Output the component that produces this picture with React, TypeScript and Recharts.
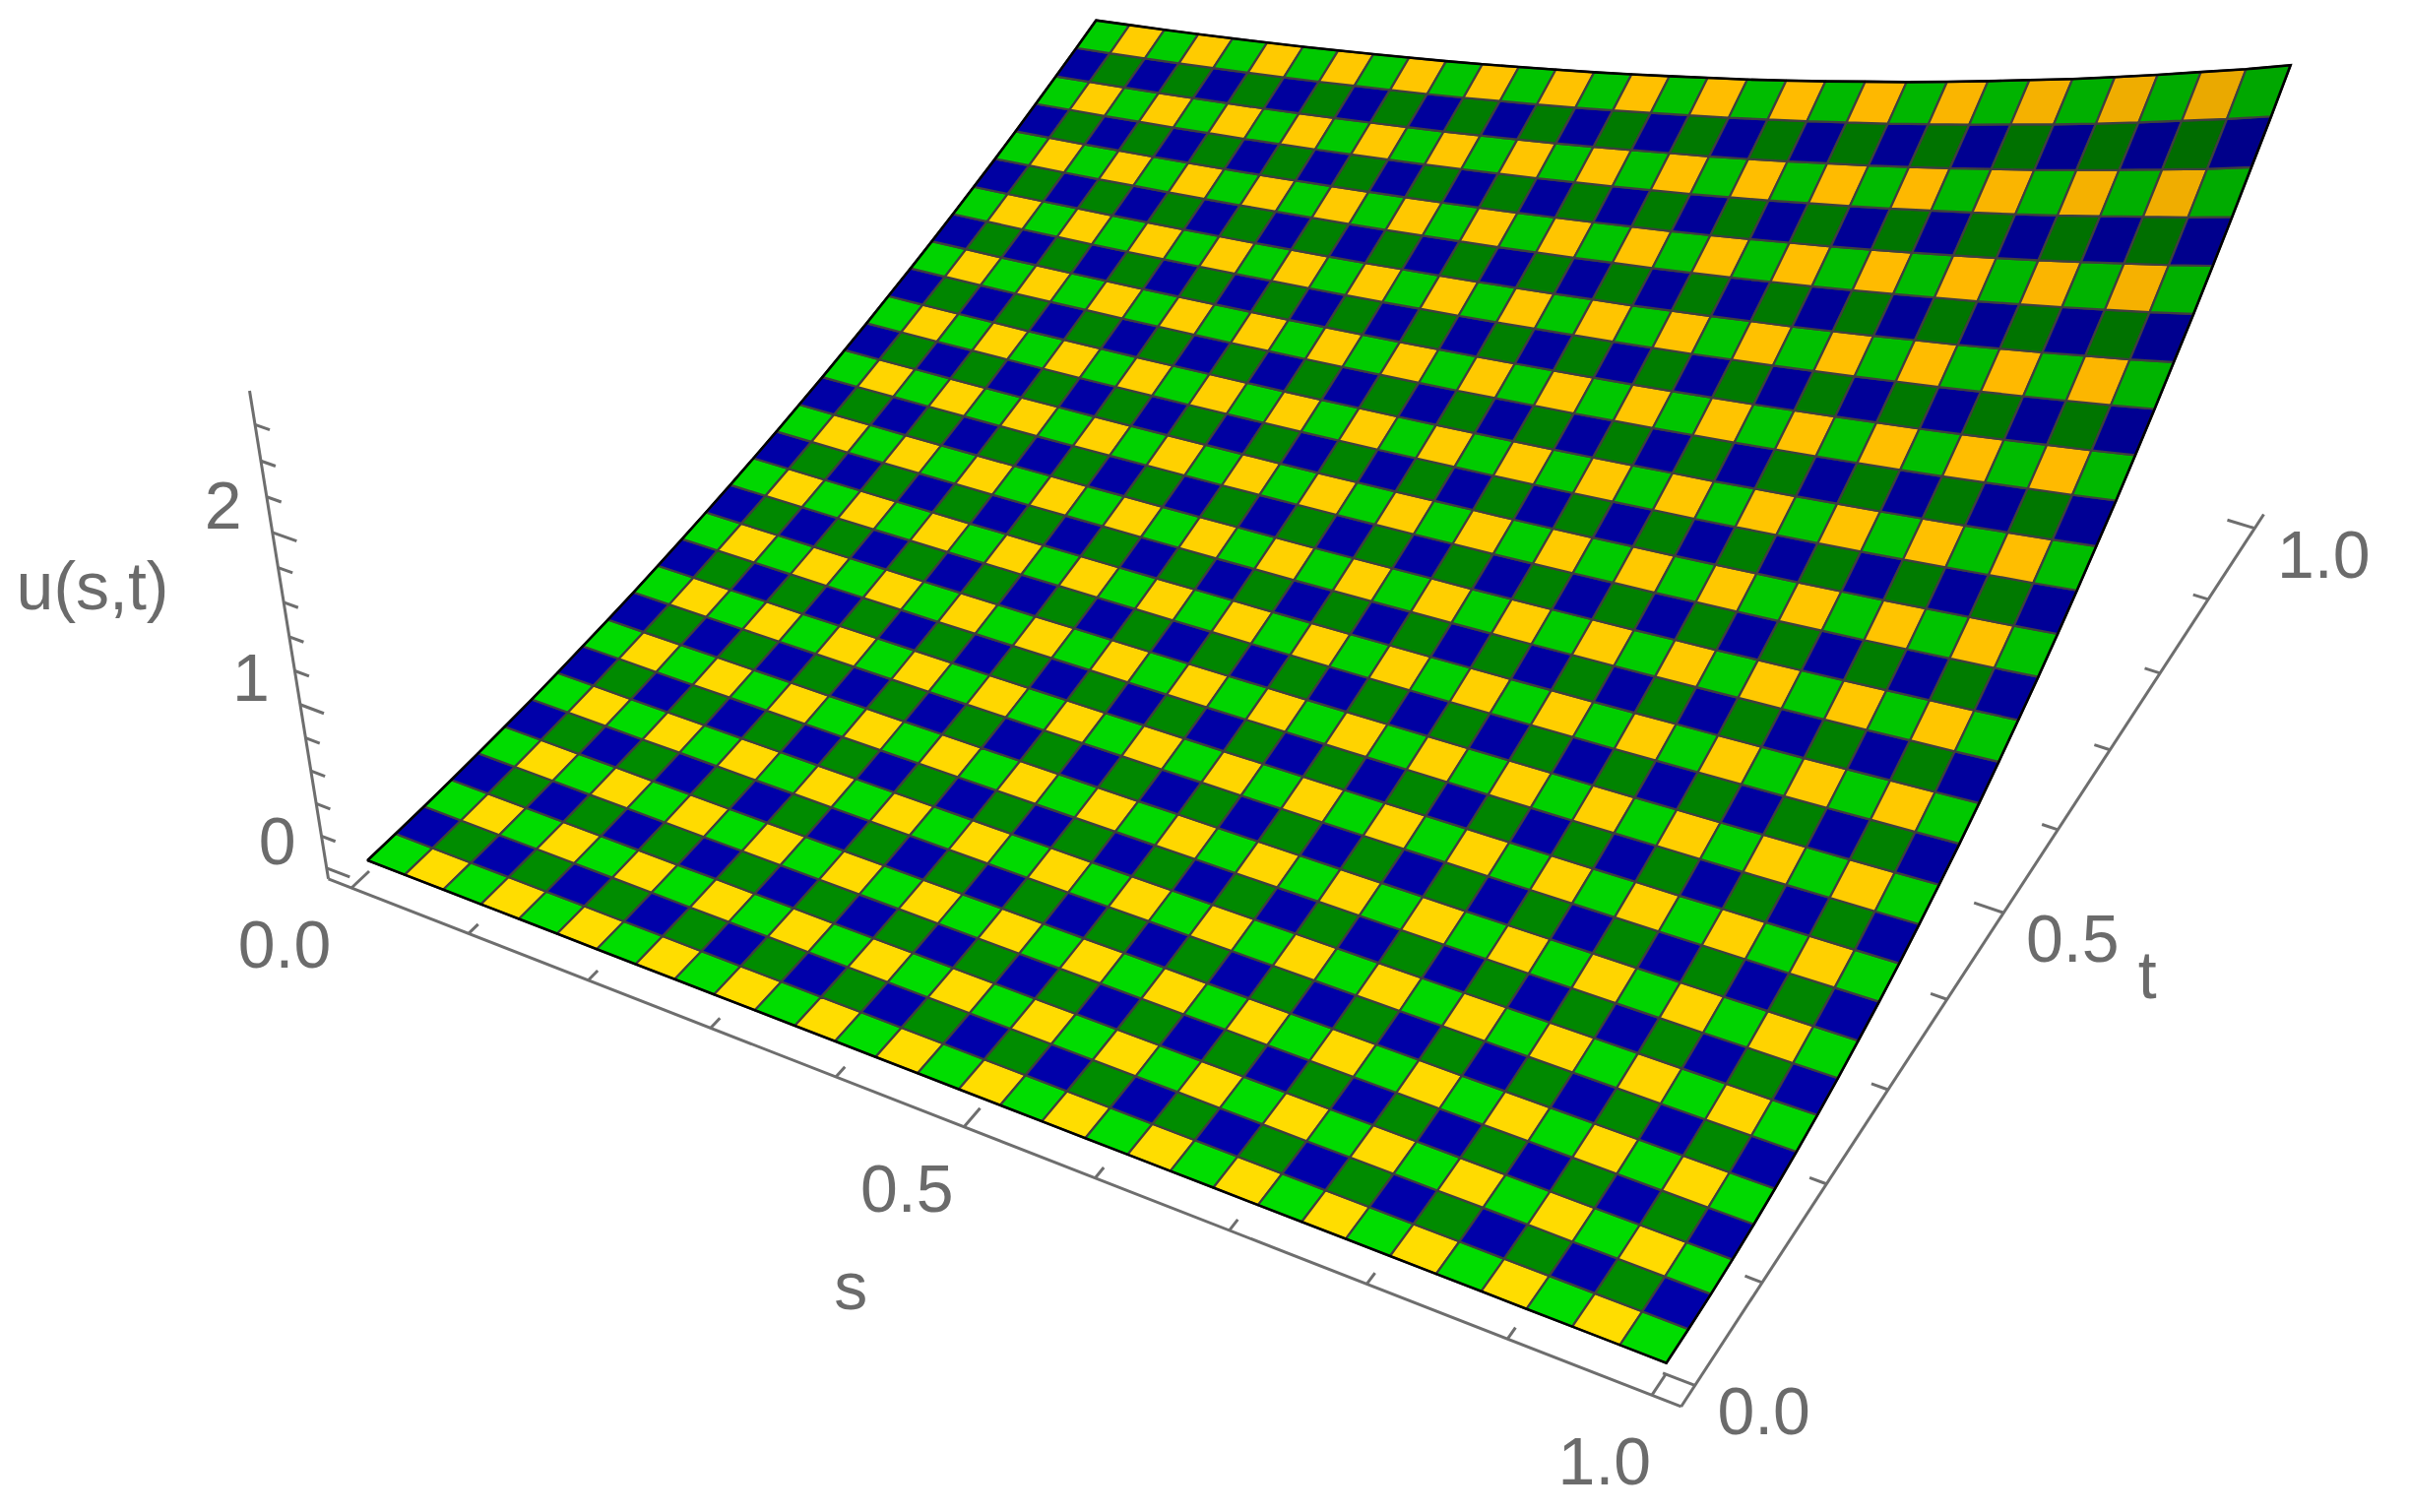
import React from 'react';
import { ScatterChart, Scatter, XAxis, YAxis } from 'recharts';

const WIDTH = 2447;
const HEIGHT = 1536;

const sValues = [0, .032, .065, .097, .129, .161, .194, .226, .258, .29, .323, .355, .387, .419, .452, .484, .516, .548, .581, .613, .645, .677, .71, .742, .774, .806, .839, .871, .903, .935, .968, 1];
const tValues = [0, .032, .065, .097, .129, .161, .194, .226, .258, .29, .323, .355, .387, .419, .452, .484, .516, .548, .581, .613, .645, .677, .71, .742, .774, .806, .839, .871, .903, .935, .968, 1];

// u(s,t), one row per t value
const uRows = [
  [0, 0, 0, 0, 0, 0, 0, 0, 0, 0, 0, 0, 0, 0, 0, 0, 0, 0, 0, 0, 0, 0, 0, 0, 0, 0, 0, 0, 0, 0, 0, 0],
  [.001, .001, .001, .001, .001, .001, .001, .001, .001, .001, .001, .001, .002, .002, .002, .002, .002, .002, .002, .002, .002, .002, .002, .002, .002, .002, .002, .002, .003, .003, .003, .003],
  [.004, .004, .004, .005, .005, .005, .005, .005, .005, .006, .006, .006, .006, .006, .007, .007, .007, .007, .007, .008, .008, .008, .008, .009, .009, .009, .01, .01, .01, .011, .011, .011],
  [.009, .01, .01, .01, .011, .011, .011, .012, .012, .013, .013, .013, .014, .014, .015, .015, .016, .016, .017, .017, .018, .018, .019, .02, .02, .021, .022, .022, .023, .024, .025, .025],
  [.017, .017, .018, .018, .019, .02, .02, .021, .022, .022, .023, .024, .025, .025, .026, .027, .028, .029, .03, .031, .032, .033, .034, .035, .036, .037, .039, .04, .041, .042, .044, .045],
  [.026, .027, .028, .029, .03, .031, .032, .033, .034, .035, .036, .037, .038, .04, .041, .042, .044, .045, .046, .048, .05, .051, .053, .055, .056, .058, .06, .062, .064, .066, .068, .071],
  [.037, .039, .04, .041, .043, .044, .045, .047, .049, .05, .052, .053, .055, .057, .059, .061, .063, .065, .067, .069, .071, .074, .076, .079, .081, .084, .087, .089, .092, .095, .099, .102],
  [.051, .053, .054, .056, .058, .06, .062, .064, .066, .068, .07, .073, .075, .078, .08, .083, .085, .088, .091, .094, .097, .1, .104, .107, .111, .114, .118, .122, .126, .13, .134, .139],
  [.067, .069, .071, .073, .076, .078, .081, .084, .086, .089, .092, .095, .098, .101, .105, .108, .112, .115, .119, .123, .127, .131, .135, .14, .144, .149, .154, .159, .164, .17, .175, .181],
  [.084, .087, .09, .093, .096, .099, .102, .106, .109, .113, .116, .12, .124, .128, .132, .137, .141, .146, .151, .156, .161, .166, .171, .177, .183, .189, .195, .201, .208, .215, .222, .229],
  [.104, .107, .111, .115, .118, .122, .126, .13, .135, .139, .144, .148, .153, .158, .163, .169, .174, .18, .186, .192, .198, .205, .212, .219, .226, .233, .241, .249, .257, .265, .274, .283],
  [.126, .13, .134, .139, .143, .148, .153, .158, .163, .168, .174, .18, .185, .192, .198, .204, .211, .218, .225, .232, .24, .248, .256, .264, .273, .282, .291, .301, .311, .321, .331, .342],
  [.15, .155, .16, .165, .171, .176, .182, .188, .194, .2, .207, .214, .221, .228, .235, .243, .251, .259, .268, .277, .286, .295, .305, .315, .325, .336, .347, .358, .37, .382, .394, .407],
  [.176, .182, .188, .194, .2, .207, .213, .221, .228, .235, .243, .251, .259, .267, .276, .285, .295, .304, .314, .325, .335, .346, .358, .369, .381, .394, .407, .42, .434, .448, .463, .478],
  [.204, .211, .218, .225, .232, .24, .248, .256, .264, .273, .282, .291, .3, .31, .32, .331, .342, .353, .364, .376, .389, .402, .415, .428, .442, .457, .472, .487, .503, .52, .537, .554],
  [.234, .242, .25, .258, .266, .275, .284, .294, .303, .313, .323, .334, .345, .356, .368, .38, .392, .405, .418, .432, .446, .461, .476, .492, .508, .524, .542, .559, .578, .597, .616, .636],
  [.266, .275, .284, .294, .303, .313, .323, .334, .345, .356, .368, .38, .392, .405, .418, .432, .446, .461, .476, .492, .508, .525, .542, .559, .578, .597, .616, .636, .657, .679, .701, .724],
  [.301, .311, .321, .331, .342, .353, .365, .377, .389, .402, .415, .429, .443, .457, .472, .488, .504, .521, .537, .555, .573, .592, .611, .632, .652, .674, .696, .718, .742, .766, .791, .817],
  [.337, .348, .36, .372, .384, .396, .409, .423, .437, .451, .466, .481, .497, .513, .53, .547, .565, .584, .602, .622, .643, .664, .685, .708, .731, .755, .78, .805, .832, .859, .887, .916],
  [.376, .388, .401, .414, .427, .441, .456, .471, .486, .502, .519, .536, .553, .571, .59, .61, .63, .65, .671, .693, .716, .74, .764, .789, .815, .841, .869, .897, .927, .957, .988, 1.021],
  [.416, .43, .444, .459, .474, .489, .505, .522, .539, .556, .575, .594, .613, .633, .654, .676, .698, .72, .744, .768, .793, .82, .846, .874, .903, .932, .963, .994, 1.027, 1.061, 1.095, 1.131],
  [.459, .474, .49, .506, .522, .539, .557, .575, .594, .614, .634, .654, .676, .698, .721, .745, .769, .794, .82, .847, .875, .904, .933, .964, .995, 1.028, 1.061, 1.096, 1.132, 1.169, 1.207, 1.247],
  [.504, .52, .537, .555, .573, .592, .611, .632, .652, .673, .696, .718, .742, .766, .791, .817, .844, .872, .9, .93, .96, .992, 1.024, 1.058, 1.092, 1.128, 1.165, 1.203, 1.242, 1.283, 1.325, 1.369],
  [.55, .569, .587, .607, .626, .647, .668, .69, .713, .736, .76, .785, .811, .837, .865, .893, .923, .953, .984, 1.016, 1.049, 1.084, 1.119, 1.156, 1.194, 1.233, 1.273, 1.315, 1.358, 1.403, 1.448, 1.496],
  [.599, .619, .64, .661, .682, .704, .728, .752, .776, .801, .828, .855, .883, .912, .942, .973, 1.005, 1.038, 1.071, 1.106, 1.142, 1.18, 1.219, 1.259, 1.3, 1.343, 1.386, 1.432, 1.479, 1.527, 1.577, 1.629],
  [.65, .672, .694, .717, .74, .764, .79, .816, .842, .87, .898, .927, .958, .989, 1.022, 1.056, 1.09, 1.126, 1.162, 1.201, 1.24, 1.281, 1.322, 1.366, 1.411, 1.457, 1.504, 1.554, 1.604, 1.657, 1.711, 1.768],
  [.703, .727, .751, .775, .801, .827, .854, .882, .911, .94, .971, 1.003, 1.036, 1.07, 1.105, 1.142, 1.179, 1.218, 1.257, 1.299, 1.341, 1.385, 1.43, 1.477, 1.526, 1.576, 1.627, 1.681, 1.735, 1.792, 1.851, 1.912],
  [.759, .784, .809, .836, .863, .891, .921, .951, .982, 1.014, 1.048, 1.082, 1.117, 1.154, 1.192, 1.231, 1.271, 1.313, 1.356, 1.4, 1.446, 1.494, 1.542, 1.593, 1.645, 1.699, 1.755, 1.812, 1.871, 1.933, 1.996, 2.062],
  [.816, .843, .87, .899, .928, .959, .99, 1.023, 1.056, 1.091, 1.127, 1.163, 1.202, 1.241, 1.282, 1.324, 1.367, 1.412, 1.458, 1.506, 1.555, 1.606, 1.659, 1.713, 1.77, 1.827, 1.887, 1.949, 2.013, 2.079, 2.146, 2.217],
  [.875, .904, .934, .964, .996, 1.028, 1.062, 1.097, 1.133, 1.17, 1.209, 1.248, 1.289, 1.331, 1.375, 1.42, 1.467, 1.515, 1.564, 1.615, 1.668, 1.723, 1.779, 1.838, 1.898, 1.96, 2.024, 2.091, 2.159, 2.23, 2.302, 2.379],
  [.937, .967, .999, 1.032, 1.066, 1.1, 1.137, 1.174, 1.213, 1.252, 1.293, 1.335, 1.38, 1.424, 1.471, 1.52, 1.57, 1.621, 1.674, 1.729, 1.785, 1.844, 1.904, 1.967, 2.031, 2.098, 2.166, 2.237, 2.31, 2.386, 2.464, 2.545],
  [1, 1.033, 1.067, 1.102, 1.138, 1.175, 1.214, 1.254, 1.295, 1.337, 1.381, 1.426, 1.473, 1.521, 1.571, 1.623, 1.676, 1.731, 1.787, 1.846, 1.906, 1.969, 2.033, 2.1, 2.169, 2.24, 2.313, 2.389, 2.467, 2.548, 2.631, 2.718],
];

const sTicks = [0, .1, .2, .3, .4, .5, .6, .7, .8, .9, 1];
const tTicks = [0, .1, .2, .3, .4, .5, .6, .7, .8, .9, 1];
const uTicks = [0, .2, .4, .6, .8, 1, 1.2, 1.4, 1.6, 1.8, 2, 2.2, 2.4, 2.6];
const sMajor = [0, .5, 1];
const tMajor = [0, .5, 1];
const uMajor = [0, 1, 2];

const BOX_MIN = -0.02;
const BOX_MAX = 1.02;
const FLOOR = -0.068;
const TOP = 2.784;

const GREY = '#6e6e6e';
const FONT = '"Liberation Sans", Arial, sans-serif';

// viewing camera of the 3D box
function project(s: number, t: number, u: number) {
  const h = u - FLOOR;
  const w = 1 - 0.109 * s + 0.2037 * t - 0.0252 * h;
  return {
    x: (375 + 1132.6 * s + 971.9 * t - 34.4 * h) / w,
    y: (885 + 358.8 * s - 664.7 * t - 183.5 * h) / w,
  };
}

function cellFill(i: number, j: number) {
  const slope = Math.abs(uRows[j + 1][i] - uRows[j][i]) * 31;
  const f = 1 - 0.029 * Math.pow(slope, 1.3);
  const red = Math.min(255, Math.round(255 * f * 1.2));
  const bright = Math.round(221 * f);
  if (j % 2 === 0) return i % 2 === 0 ? `rgb(0,${bright},0)` : `rgb(${red},${bright},0)`;
  if (i % 2 === 0) return `rgb(0,0,${Math.round(170 * (1 - (1 - f) * 0.8))})`;
  return `rgb(0,${Math.round(140 * f)},0)`;
}

const cells = [];
for (let j = 0; j < tValues.length - 1; j++) {
  for (let i = 0; i < sValues.length - 1; i++) {
    const corners = [
      project(sValues[i], tValues[j], uRows[j][i]),
      project(sValues[i + 1], tValues[j], uRows[j][i + 1]),
      project(sValues[i + 1], tValues[j + 1], uRows[j + 1][i + 1]),
      project(sValues[i], tValues[j + 1], uRows[j + 1][i]),
    ];
    cells.push({ x: corners[0].x, y: corners[0].y, corners, fill: cellFill(i, j) });
  }
}

const last = sValues.length - 1;
const outline = [
  ...sValues.map((s, i) => project(s, 0, uRows[0][i])),
  ...tValues.map((t, j) => project(1, t, uRows[j][last])),
  ...sValues.map((s, i) => project(s, 1, uRows[last][i])).reverse(),
  ...tValues.map((t, j) => project(0, t, uRows[j][0])).reverse(),
];

// box edges and tick marks, as two point runs
const axisLines = [
  [project(BOX_MIN, BOX_MIN, FLOOR), project(BOX_MAX, BOX_MIN, FLOOR)],
  [project(BOX_MAX, BOX_MIN, FLOOR), project(BOX_MAX, BOX_MAX, FLOOR)],
  [project(BOX_MIN, BOX_MIN, FLOOR), project(BOX_MIN, BOX_MIN, TOP)],
  ...sTicks.map((s) => [
    project(s, BOX_MIN, FLOOR),
    project(s, BOX_MIN + (sMajor.includes(s) ? 0.02 : 0.011), FLOOR),
  ]),
  ...tTicks.map((t) => [
    project(BOX_MAX, t, FLOOR),
    project(BOX_MAX - (tMajor.includes(t) ? 0.022 : 0.012), t, FLOOR),
  ]),
  ...uTicks.map((u) => [
    project(BOX_MIN, BOX_MIN, u),
    project(BOX_MIN + (uMajor.includes(u) ? 0.02 : 0.012), BOX_MIN, u),
  ]),
];

const shift = (p: { x: number; y: number }, dx: number, dy: number, label: string) => ({
  x: p.x + dx,
  y: p.y + dy,
  label,
});

const labels = [
  ...sMajor.map((s) => shift(project(s, BOX_MIN, FLOOR), -68 + 20 * s, 57 + 10 * s, s.toFixed(1))),
  ...tMajor.map((t) => shift(project(BOX_MAX, t, FLOOR), 70, 26, t.toFixed(1))),
  ...uMajor.map((u) => shift(project(BOX_MIN, BOX_MIN, u), -50, -28, String(u))),
  shift(project(0.5, BOX_MIN, FLOOR), -115, 161, 's'),
  shift(project(BOX_MAX, 0.5, FLOOR), 146, 63, 't'),
  shift(project(BOX_MIN, BOX_MIN, 1.5), -197, -34, 'u(s,t)'),
];

const CellShape = (props: any) => {
  const { cx, cy, payload } = props;
  const points = payload.corners
    .map((c: any) => `${cx + c.x - payload.x},${cy + c.y - payload.y}`)
    .join(' ');
  return <polygon points={points} fill={payload.fill} stroke="#3f3f3f" strokeWidth={2.2} strokeLinejoin="round" />;
};

const LabelShape = (props: any) => (
  <text
    x={props.cx}
    y={props.cy}
    textAnchor="middle"
    dominantBaseline="central"
    fontFamily={FONT}
    fontSize={68}
    fill="#6b6b6b"
  >
    {props.payload.label}
  </text>
);

const NoMark = () => <g />;

export default function App() {
  return (
    <div style={{ position: 'absolute', left: 0, top: 0, width: WIDTH, height: HEIGHT, background: '#fff' }}>
      <ScatterChart width={WIDTH} height={HEIGHT} margin={{ top: 0, right: 0, bottom: 0, left: 0 }}>
        <XAxis dataKey="x" type="number" domain={[0, WIDTH]} hide />
        <YAxis dataKey="y" type="number" domain={[0, HEIGHT]} reversed hide />
        {axisLines.map((line, k) => (
          <Scatter
            key={`axis-${k}`}
            data={line}
            line={{ stroke: GREY, strokeWidth: 3 }}
            shape={NoMark}
            isAnimationActive={false}
          />
        ))}
        <Scatter data={cells} shape={CellShape} isAnimationActive={false} />
        <Scatter
          data={outline}
          line={{ stroke: '#000', strokeWidth: 2.6 }}
          shape={NoMark}
          isAnimationActive={false}
        />
        <Scatter data={labels} shape={LabelShape} isAnimationActive={false} />
      </ScatterChart>
    </div>
  );
}
